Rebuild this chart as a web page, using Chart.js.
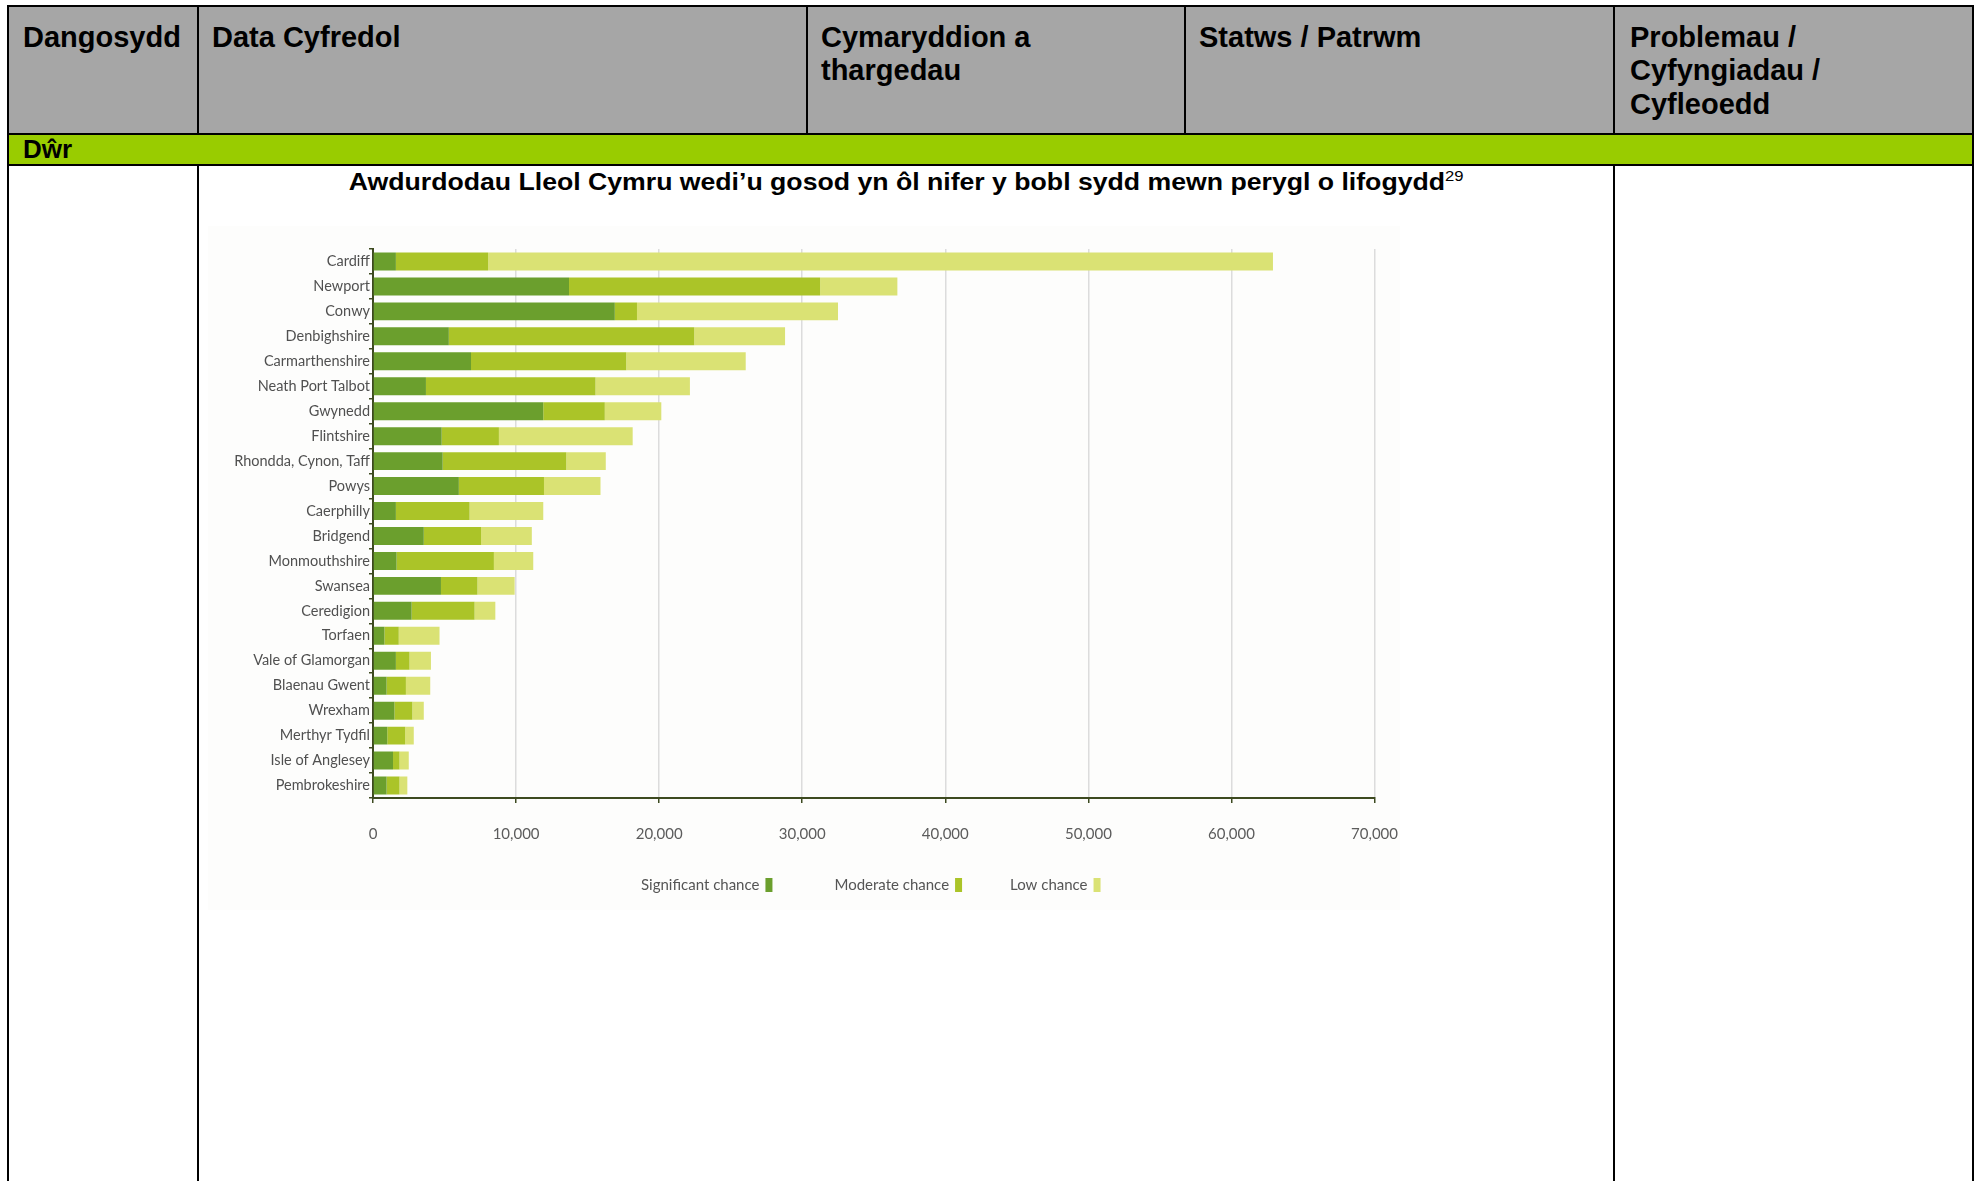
<!DOCTYPE html>
<html>
<head>
<meta charset="utf-8">
<script src="https://cdn.jsdelivr.net/npm/chart.js@4.4.1/dist/chart.umd.min.js"></script>
<style>
  html, body { margin: 0; padding: 0; background: #fff; }
  body { width: 1977px; height: 1181px; position: relative; overflow: hidden; font-family: "Liberation Sans", Arial, sans-serif; }
  .fill { position: absolute; }
  .line { position: absolute; background: #000; }
  .head { position: absolute; top: 21px; font-size: 29px; font-weight: bold; line-height: 33.4px; color: #000; }
  #dwr { position: absolute; left: 23px; top: 136px; font-size: 26px; font-weight: bold; line-height: 26px; }
  #title { position: absolute; left: 198px; width: 1416px; top: 168px; text-align: center; font-size: 24px; font-weight: bold; line-height: 27px; }
  #title span { display: inline-block; transform: scaleX(1.11); transform-origin: center; }
  #title sup { font-size: 15px; font-weight: normal; vertical-align: 9px; line-height: 0; }
  #chartBox { position: absolute; left: 208px; top: 226px; width: 1192px; height: 684px; background: #fdfdfc; }
  #floodChart { position: absolute; left: 0; top: 0; }
</style>
</head>
<body>
<!-- table backgrounds -->
<div class="fill" style="left:8px;top:6px;width:1965px;height:127px;background:#a6a6a6"></div>
<div class="fill" style="left:8px;top:134px;width:1965px;height:31px;background:#99cc00"></div>

<!-- table rules -->
<div class="line" style="left:7px;top:5px;width:1967px;height:2px"></div>
<div class="line" style="left:7px;top:133px;width:1967px;height:2px"></div>
<div class="line" style="left:7px;top:164px;width:1967px;height:2px"></div>
<div class="line" style="left:7px;top:5px;width:2px;height:1176px"></div>
<div class="line" style="left:1972px;top:5px;width:2px;height:1176px"></div>
<div class="line" style="left:197px;top:5px;width:2px;height:129px"></div>
<div class="line" style="left:197px;top:165px;width:2px;height:1016px"></div>
<div class="line" style="left:806px;top:5px;width:2px;height:129px"></div>
<div class="line" style="left:1184px;top:5px;width:2px;height:129px"></div>
<div class="line" style="left:1613px;top:5px;width:2px;height:129px"></div>
<div class="line" style="left:1613px;top:165px;width:2px;height:1016px"></div>

<div class="head" style="left:23px">Dangosydd</div>
<div class="head" style="left:212px">Data Cyfredol</div>
<div class="head" style="left:821px">Cymaryddion a<br>thargedau</div>
<div class="head" style="left:1199px">Statws / Patrwm</div>
<div class="head" style="left:1630px">Problemau /<br>Cyfyngiadau /<br>Cyfleoedd</div>

<div id="dwr">Dŵr</div>
<div id="title"><span>Awdurdodau Lleol Cymru wedi’u gosod yn ôl nifer y bobl sydd mewn perygl o lifogydd<sup>29</sup></span></div>

<div id="chartBox"><canvas id="floodChart" width="1212" height="684"></canvas></div>

<script>
// local authorities, top to bottom
var authorities = ['Cardiff', 'Newport', 'Conwy', 'Denbighshire', 'Carmarthenshire', 'Neath Port Talbot',
  'Gwynedd', 'Flintshire', 'Rhondda, Cynon, Taff', 'Powys', 'Caerphilly', 'Bridgend', 'Monmouthshire',
  'Swansea', 'Ceredigion', 'Torfaen', 'Vale of Glamorgan', 'Blaenau Gwent', 'Wrexham', 'Merthyr Tydfil',
  'Isle of Anglesey', 'Pembrokeshire'];

// people at risk, by chance of flooding
var significant = [1600, 13700, 16900, 5300, 6850, 3700, 11900, 4800, 4870, 6000, 1600, 3550, 1650,
  4750, 2700, 800, 1600, 950, 1500, 1000, 1400, 950];
var moderate = [6450, 17550, 1550, 17150, 10850, 11850, 4300, 4000, 8640, 5950, 5150, 4000, 6800,
  2550, 4400, 1000, 950, 1350, 1250, 1250, 450, 900];
var low = [54850, 5400, 14050, 6350, 8350, 6600, 3950, 9350, 2760, 3950, 5150, 3550, 2750,
  2600, 1450, 2850, 1500, 1700, 800, 600, 650, 550];

// x axis ticks
var xTicks = [0, 10000, 20000, 30000, 40000, 50000, 60000, 70000];

var axisColor = '#3d4a20';

// legend drawn after the chart: text first, swatch after
var legendAfter = {
  id: 'legendAfter',
  afterDraw: function(chart) {
    var ctx = chart.ctx;
    var area = chart.chartArea;
    var gaps = [62, 48];
    ctx.save();
    ctx.font = '15px Lato';
    ctx.textBaseline = 'middle';
    var items = chart.data.datasets.map(function(ds) {
      var tw = ctx.measureText(ds.label).width;
      return { text: ds.label, color: ds.backgroundColor, tw: tw, w: tw + 6 + 7 };
    });
    var total = items.reduce(function(a, it) { return a + it.w; }, 0) + gaps[0] + gaps[1];
    var x = (area.left + area.right) / 2 - total / 2 - 3;
    var y = area.bottom + 87;
    items.forEach(function(it, i) {
      ctx.fillStyle = '#555';
      ctx.fillText(it.text, x, y);
      ctx.fillStyle = it.color;
      ctx.fillRect(x + it.tw + 6, y - 7, 7, 14);
      x += it.w + (gaps[i] || 0);
    });
    ctx.restore();
  }
};

var ctx = document.getElementById('floodChart').getContext('2d');
var floodChart = new Chart(ctx, {
  type: 'bar',
  data: {
    labels: authorities,
    datasets: [
      { label: 'Significant chance', data: significant, backgroundColor: '#6b9f2d' },
      { label: 'Moderate chance', data: moderate, backgroundColor: '#abc428' },
      { label: 'Low chance', data: low, backgroundColor: '#dae274' }
    ]
  },
  options: {
    indexAxis: 'y',
    responsive: false,
    animation: false,
    devicePixelRatio: 1,
    categoryPercentage: 0.9,
    barPercentage: 0.8,
    layout: { padding: { top: 23, right: 6, left: 0, bottom: 45 } },
    scales: {
      x: {
        stacked: true,
        min: 0,
        max: 70000,
        afterBuildTicks: function(scale) {
          scale.ticks = xTicks.map(function(v) { return { value: v }; });
        },
        ticks: {
          color: '#5c5c5c',
          font: { family: 'Lato', size: 15 },
          padding: 22,
          callback: function(v) { return String(v).replace(/\B(?=(\d{3})+(?!\d))/g, ','); }
        },
        grid: { color: '#dcdcdc', lineWidth: 1.5, tickColor: axisColor, tickLength: 5 },
        border: { color: axisColor, width: 2 }
      },
      y: {
        stacked: true,
        afterFit: function(scale) { scale.width = 165; },
        ticks: { color: '#505050', font: { family: 'Lato', size: 14.5 }, padding: -1 },
        grid: { drawOnChartArea: false, tickColor: axisColor, tickLength: 4, lineWidth: 1.5 },
        border: { color: axisColor, width: 2 }
      }
    },
    plugins: {
      legend: { display: false },
      tooltip: { enabled: false }
    }
  },
  plugins: [legendAfter]
});
</script>
</body>
</html>
